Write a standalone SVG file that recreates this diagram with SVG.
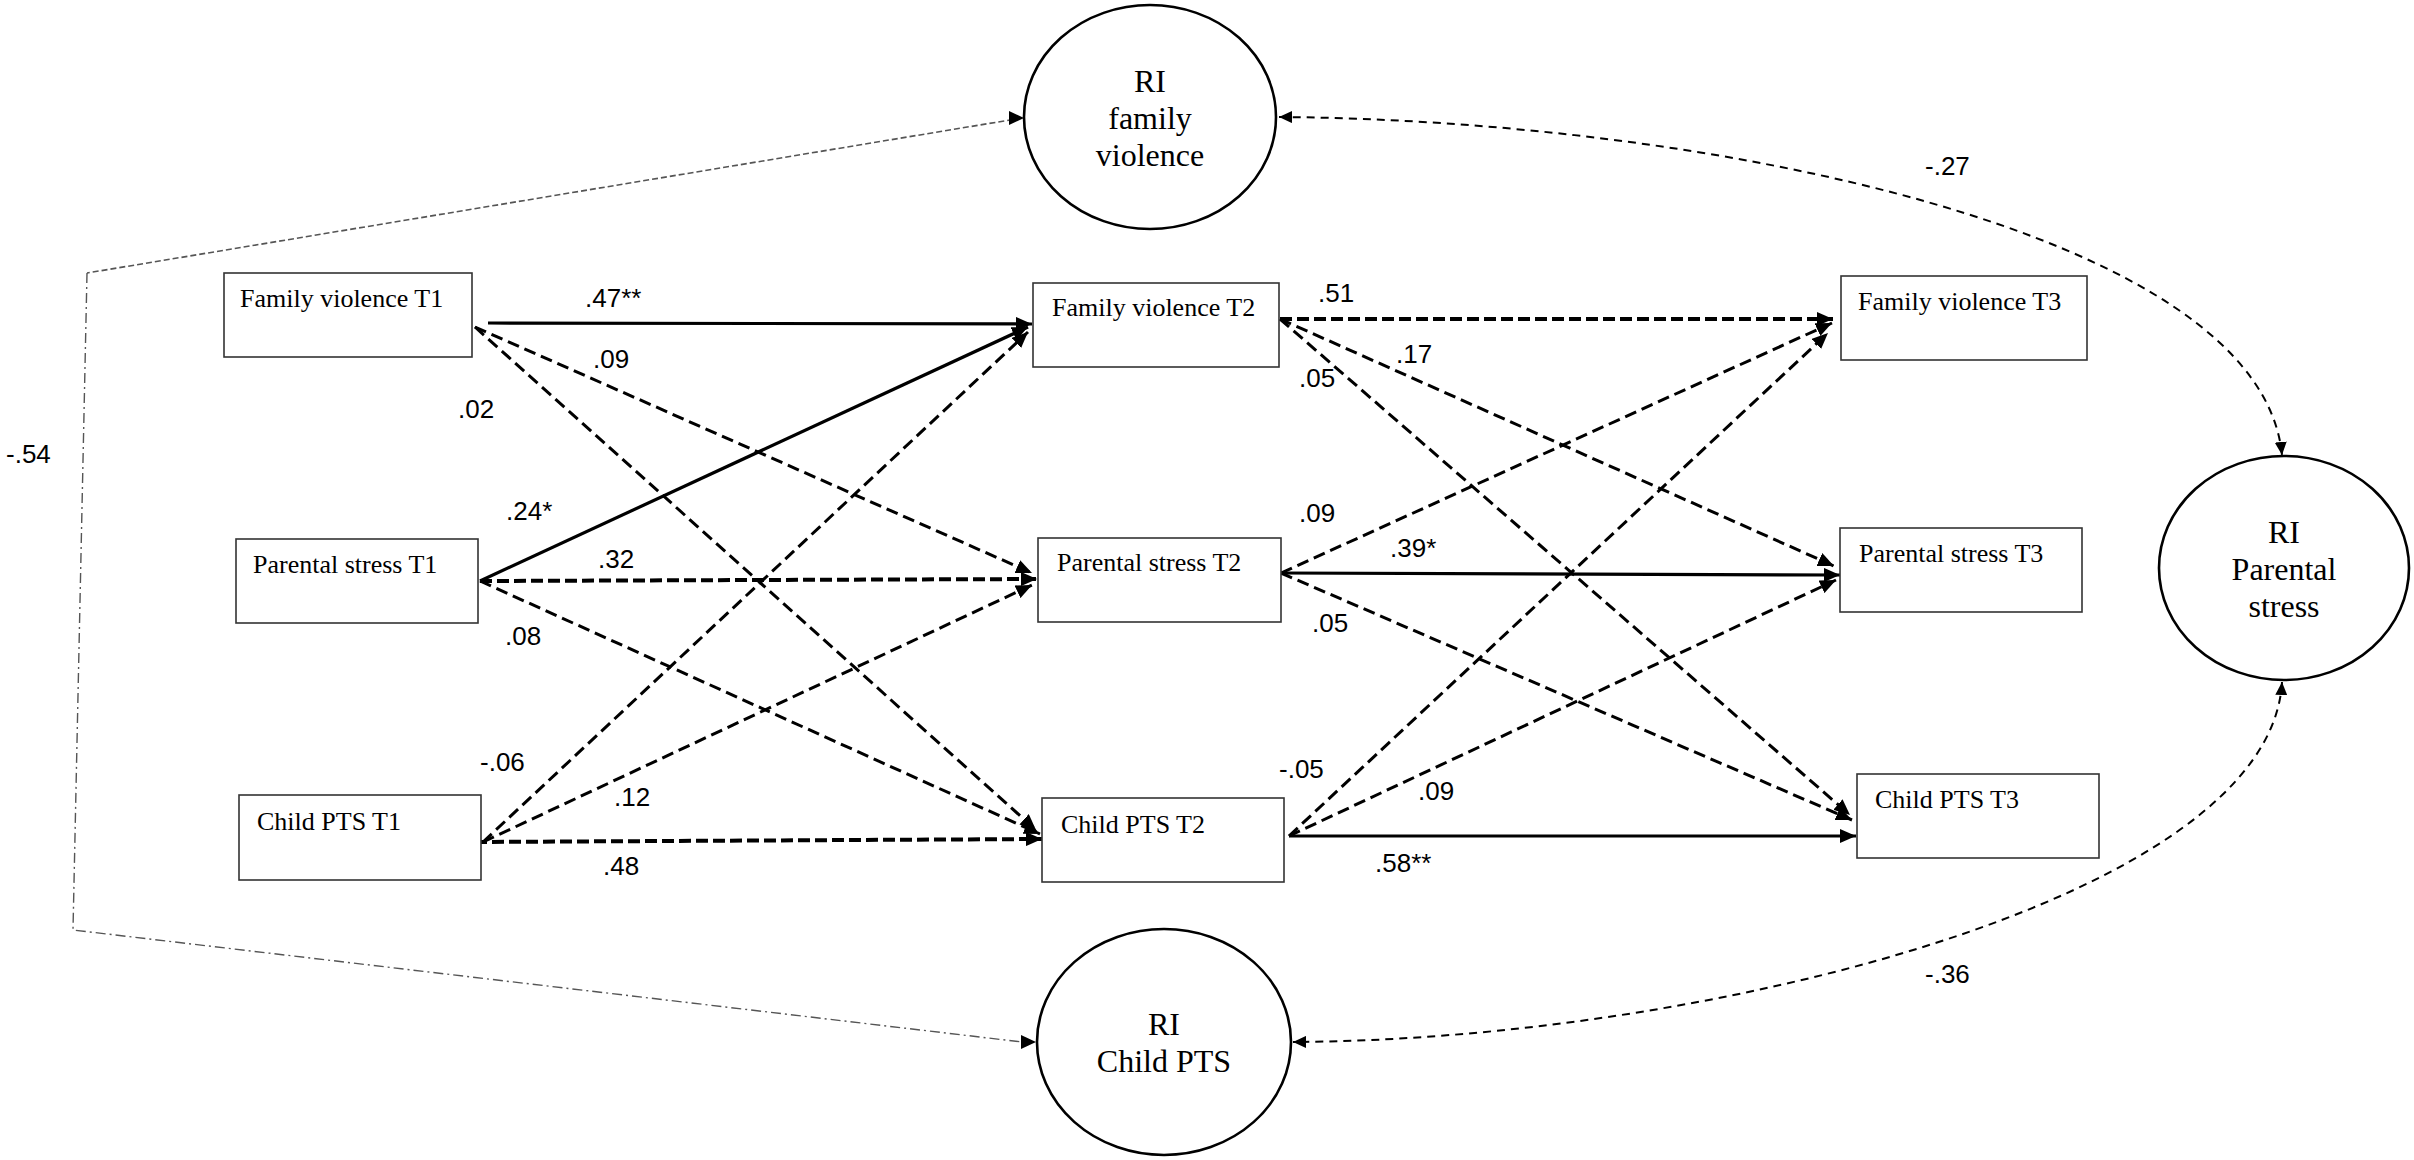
<svg xmlns="http://www.w3.org/2000/svg" width="2414" height="1160" viewBox="0 0 2414 1160">
<style>
.box{fill:#fff;stroke:#333;stroke-width:1.6}
.ell{fill:#fff;stroke:#000;stroke-width:2.6}
.bt{font-family:"Liberation Serif","Times New Roman",serif;font-size:26px;fill:#000}
.et{font-family:"Liberation Serif","Times New Roman",serif;font-size:32px;fill:#000;text-anchor:middle}
.lb{font-family:"Liberation Sans",Arial,sans-serif;font-size:26px;fill:#000}
.sol{fill:none;stroke:#000;stroke-width:3.2;marker-end:url(#ah)}
.das{fill:none;stroke:#000;stroke-width:3;stroke-dasharray:12 6;marker-end:url(#ah)}
.dth{fill:none;stroke:#000;stroke-width:4;stroke-dasharray:12 5;marker-end:url(#ah)}
.cov{fill:none;stroke:#000;stroke-width:2;stroke-dasharray:8 6;marker-start:url(#sh);marker-end:url(#sh)}
.dd1{fill:none;stroke:#555;stroke-width:1.6;stroke-dasharray:6 3}
.dd2{fill:none;stroke:#555;stroke-width:1.4;stroke-dasharray:10 4 2 4}
</style>
<defs>
<marker id="ah" markerUnits="userSpaceOnUse" markerWidth="17" markerHeight="14" refX="16" refY="7" orient="auto"><path d="M0,0 L16,7 L0,14 z" fill="#000"/></marker>
<marker id="sh" markerUnits="userSpaceOnUse" markerWidth="14" markerHeight="12" refX="13" refY="6" orient="auto-start-reverse"><path d="M0,0 L13,6 L0,12 z" fill="#000"/></marker>
</defs>
<rect width="2414" height="1160" fill="#fff"/>
<g id="connectors">
<line class="sol" x1="488" y1="323" x2="1032" y2="324"/>
<line class="das" x1="475" y1="327" x2="1032" y2="573"/>
<line class="das" x1="475" y1="327" x2="1036" y2="830"/>
<line class="sol" x1="480" y1="581" x2="1028" y2="327"/>
<line class="dth" x1="480" y1="581" x2="1037" y2="579"/>
<line class="das" x1="480" y1="581" x2="1040" y2="834"/>
<line class="das" x1="483" y1="842" x2="1028" y2="332"/>
<line class="das" x1="483" y1="842" x2="1032" y2="585"/>
<line class="dth" x1="475" y1="842" x2="1042" y2="839"/>
<line class="dth" x1="1280" y1="319" x2="1833" y2="319"/>
<line class="das" x1="1280" y1="319" x2="1834" y2="566"/>
<line class="das" x1="1280" y1="319" x2="1850" y2="815"/>
<line class="das" x1="1281" y1="573" x2="1832" y2="323"/>
<line class="sol" x1="1281" y1="573" x2="1840" y2="575"/>
<line class="das" x1="1281" y1="573" x2="1852" y2="820"/>
<line class="das" x1="1289" y1="836" x2="1828" y2="333"/>
<line class="das" x1="1289" y1="836" x2="1836" y2="580"/>
<line class="sol" x1="1289" y1="836" x2="1856" y2="836"/>
<path class="cov" d="M1279,117 C1700,120 2260,230 2282,455"/>
<path class="cov" d="M2282,682 C2270,900 1700,1040 1293,1042"/>
<polyline class="dd1" points="1022,118 87,273"/>
<polyline class="dd2" points="87,273 73,930 1022,1042"/>
<path d="M1009,111 L1024,118 L1009,125 z" fill="#000"/>
<path d="M1021,1035 L1036,1042 L1021,1049 z" fill="#000"/>
</g>
<g id="labels">
<text class="lb" x="585" y="307">.47**</text>
<text class="lb" x="593" y="368">.09</text>
<text class="lb" x="458" y="418">.02</text>
<text class="lb" x="506" y="520">.24*</text>
<text class="lb" x="598" y="568">.32</text>
<text class="lb" x="505" y="645">.08</text>
<text class="lb" x="480" y="771">-.06</text>
<text class="lb" x="614" y="806">.12</text>
<text class="lb" x="603" y="875">.48</text>
<text class="lb" x="1318" y="302">.51</text>
<text class="lb" x="1396" y="363">.17</text>
<text class="lb" x="1299" y="387">.05</text>
<text class="lb" x="1299" y="522">.09</text>
<text class="lb" x="1390" y="557">.39*</text>
<text class="lb" x="1312" y="632">.05</text>
<text class="lb" x="1279" y="778">-.05</text>
<text class="lb" x="1418" y="800">.09</text>
<text class="lb" x="1375" y="872">.58**</text>
<text class="lb" x="1925" y="175">-.27</text>
<text class="lb" x="1925" y="983">-.36</text>
<text class="lb" x="6" y="463">-.54</text>
</g>
<g id="fv1"><rect class="box" x="224" y="273" width="248" height="84"/><text class="bt" x="240" y="307">Family violence T1</text></g>
<g id="ps1"><rect class="box" x="236" y="539" width="242" height="84"/><text class="bt" x="253" y="573">Parental stress T1</text></g>
<g id="cp1"><rect class="box" x="239" y="795" width="242" height="85"/><text class="bt" x="257" y="830">Child PTS T1</text></g>
<g id="fv2"><rect class="box" x="1033" y="283" width="246" height="84"/><text class="bt" x="1052" y="316">Family violence T2</text></g>
<g id="ps2"><rect class="box" x="1038" y="538" width="243" height="84"/><text class="bt" x="1057" y="571">Parental stress T2</text></g>
<g id="cp2"><rect class="box" x="1042" y="798" width="242" height="84"/><text class="bt" x="1061" y="833">Child PTS T2</text></g>
<g id="fv3"><rect class="box" x="1841" y="276" width="246" height="84"/><text class="bt" x="1858" y="310">Family violence T3</text></g>
<g id="ps3"><rect class="box" x="1840" y="528" width="242" height="84"/><text class="bt" x="1859" y="562">Parental stress T3</text></g>
<g id="cp3"><rect class="box" x="1857" y="774" width="242" height="84"/><text class="bt" x="1875" y="808">Child PTS T3</text></g>
<g id="rifv"><ellipse class="ell" cx="1150" cy="117" rx="126" ry="112"/><text class="et" x="1150" y="92">RI</text><text class="et" x="1150" y="129">family</text><text class="et" x="1150" y="166">violence</text></g>
<g id="rips"><ellipse class="ell" cx="2284" cy="568" rx="125" ry="112"/><text class="et" x="2284" y="543">RI</text><text class="et" x="2284" y="580">Parental</text><text class="et" x="2284" y="617">stress</text></g>
<g id="ricp"><ellipse class="ell" cx="1164" cy="1042" rx="127" ry="113"/><text class="et" x="1164" y="1035">RI</text><text class="et" x="1164" y="1072">Child PTS</text></g>
</svg>
